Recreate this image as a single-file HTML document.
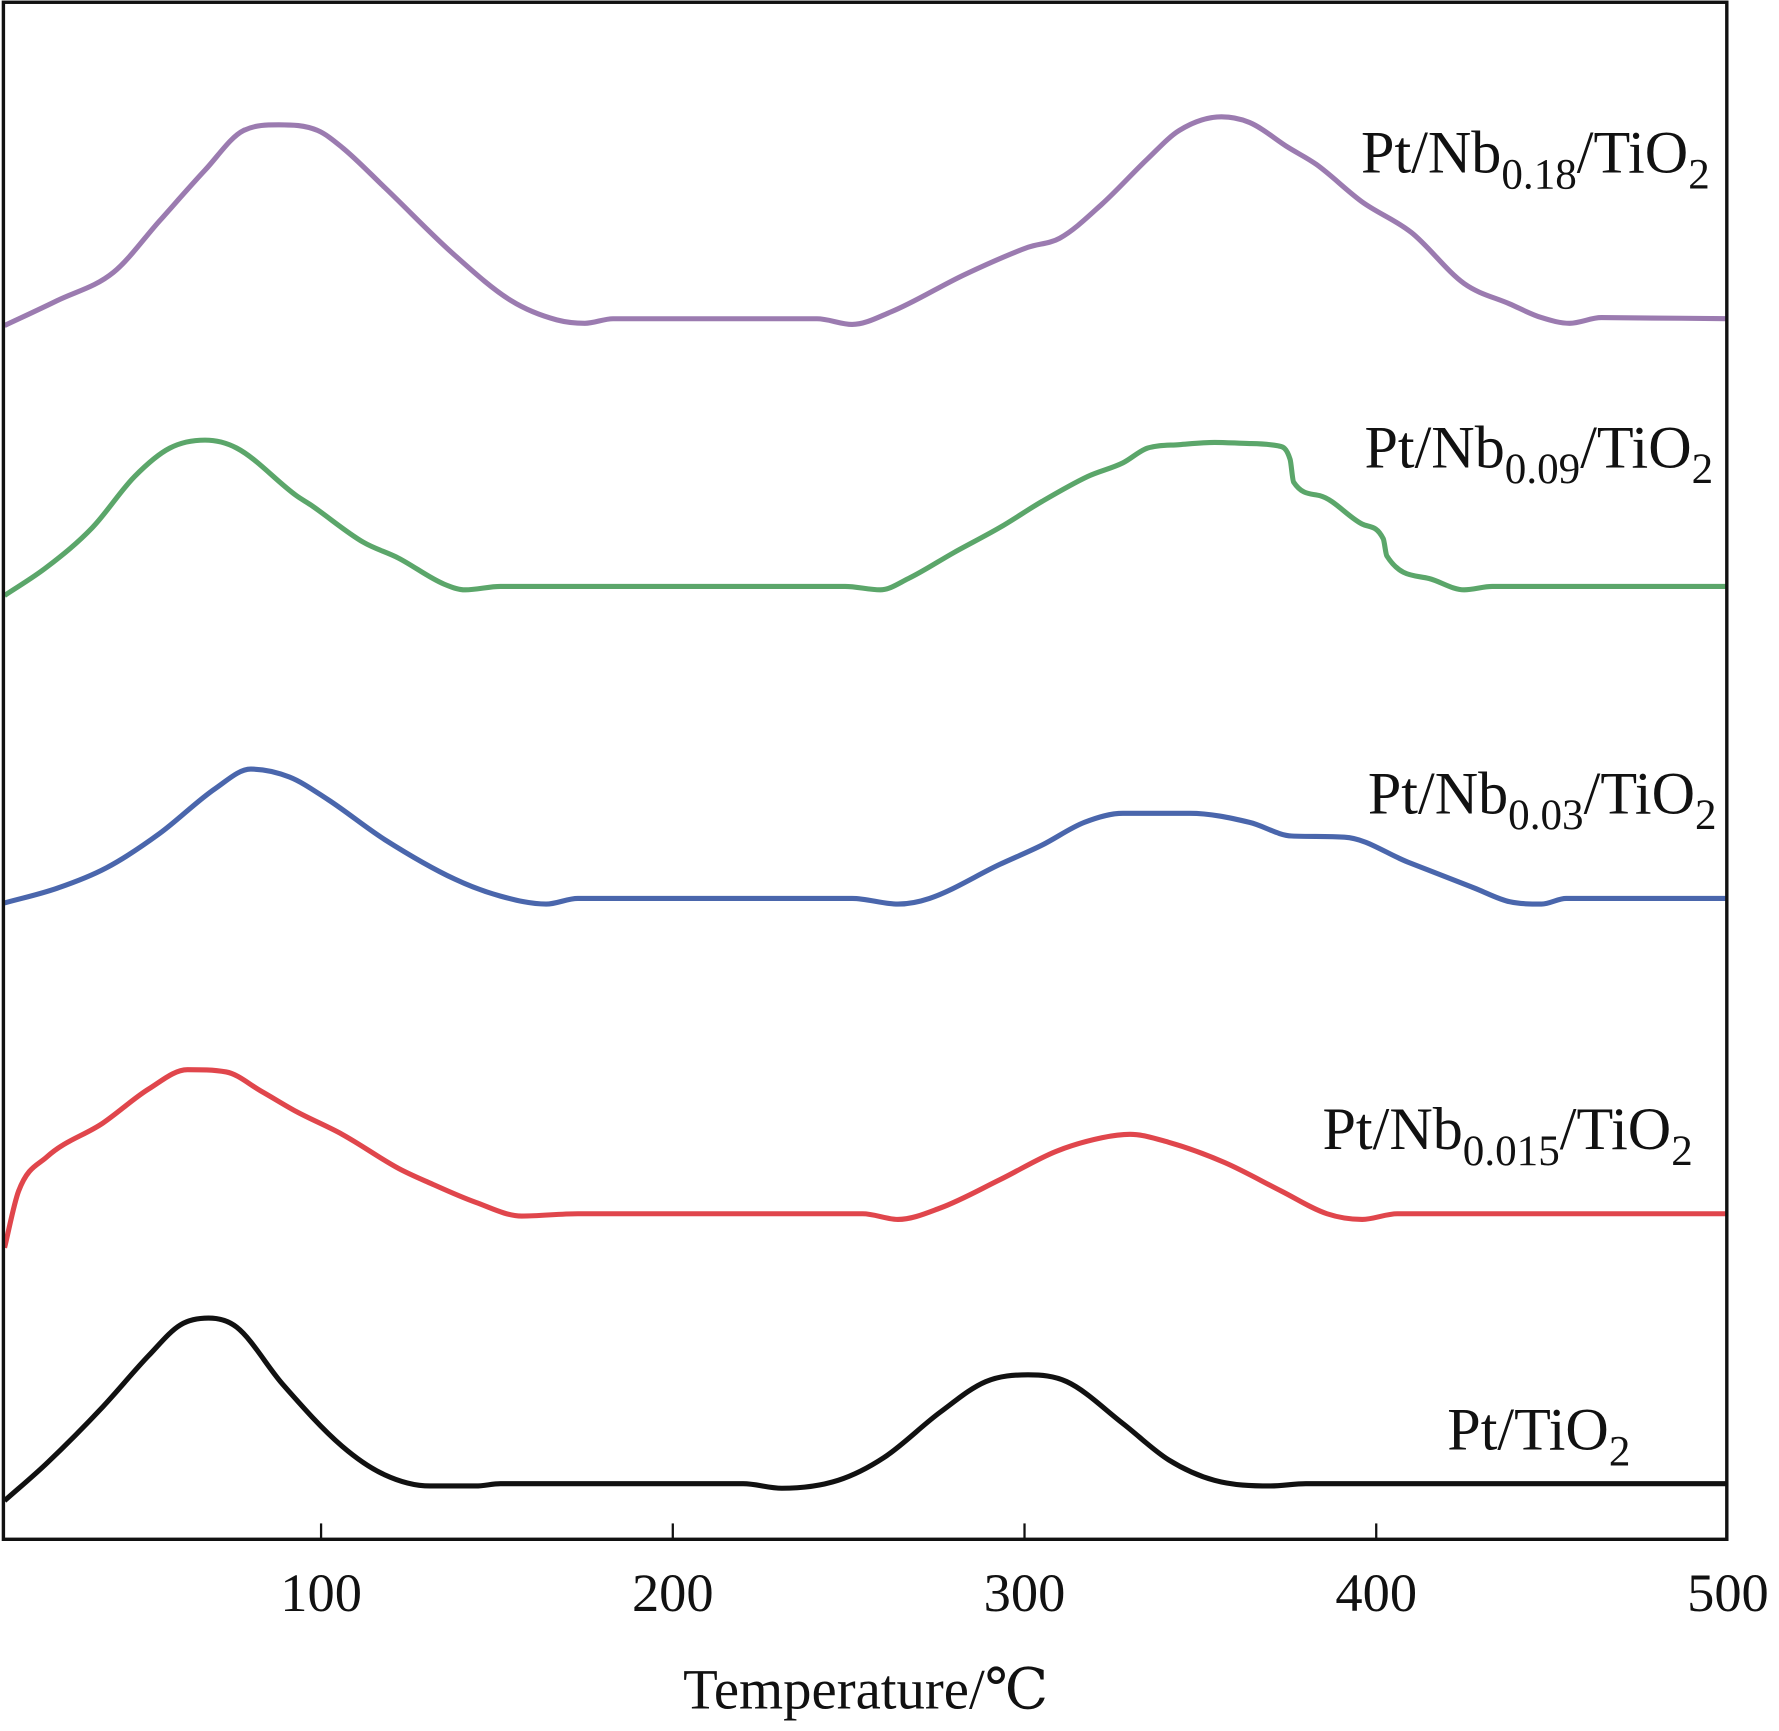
<!DOCTYPE html>
<html><head><meta charset="utf-8"><style>
html,body{margin:0;padding:0;background:#fff;}
svg{display:block;}
text{font-family:"Liberation Serif","DejaVu Serif",serif;fill:#111;}
</style></head><body>
<svg id="chart" width="1779" height="1731" viewBox="0 0 1568 1526" preserveAspectRatio="none" xmlns="http://www.w3.org/2000/svg">
<g id="plot"></g>
</svg>
<script>
const xTicks=[100,200,300,400,500];
const t018=[10,25,41,54,67,78,88,99,106,118,138,154,167,175,183,241,251,262,283,301,310,322,335,344,356,364,375,383,396,410,425,438,447,455,464,500];
const v018=[1070,1092,1117,1162,1207,1242,1247,1242,1227,1192,1132,1092,1075,1072,1076,1076,1071,1082,1115,1139,1147,1177,1217,1242,1254,1249,1227,1212,1179,1152,1107,1089,1077,1072,1077,1076];
const t009=[10,22,35,47,57,67,76,93,97,112,122,135,141,151,249,259,267,280,293,305,318,328,335,344,354,364,372,375.5,376.5,384,396,402,403,415,425,433,500];
const v009=[832,857,892,937,962,969,962,920,912,879,865,842,837,840,840,837,847,870,892,915,937,949,962,965,967,966,964,952,932,920,895,882,867,847,837,840,840];
const t003=[10,25,39,54,70,80,91,102,118,138,151,164,173,251,264,273,293,305,317,328,347,364,376,391,409,428,438,447,454,500];
const v003=[561,574,592,622,662,679,672,652,617,582,567,560,565,565,560,565,595,612,632,640,640,632,620,619,597,574,562,560,565,565];
const t0015=[10,14,22,38,51,62,73,83,93,106,122,131,144,157,173,254,264,276,293,309,322,330,341,357,373,386,396,406,500];
const v0015=[257,307,337,367,397,414,412,395,377,357,327,314,297,285,287,287,282,292,317,342,354,357,350,332,307,287,282,287,287];
const t0=[10,22,38,51,60,68,76,89,106,118,131,144,151,220,231,247,260,276,289,301,312,328,341,354,370,380,500];
const v0=[34,67,117,162,189,195,187,137,82,57,47,47,49,49,45,52,72,112,139,145,139,102,70,52,47,49,49];

const X=t=>283+(t-100)*3.1;
const Y=v=>1357-v;
const NS="http://www.w3.org/2000/svg";
const plot=document.getElementById('plot');
function mk(tag,attrs){const e=document.createElementNS(NS,tag);for(const k in attrs)e.setAttribute(k,attrs[k]);return e;}
function curve(ts,vs){
  const p=ts.map((t,i)=>[X(t),Y(vs[i])]);
  const n=p.length, d=[], m=new Array(n);
  for(let i=0;i<n-1;i++) d.push((p[i+1][1]-p[i][1])/(p[i+1][0]-p[i][0]));
  m[0]=d[0]; m[n-1]=d[n-2];
  for(let i=1;i<n-1;i++){ m[i]=(d[i-1]*d[i]<=0)?0:(d[i-1]+d[i])/2; }
  for(let i=0;i<n-1;i++){
    if(d[i]===0){m[i]=0;m[i+1]=0;continue;}
    const a=m[i]/d[i], b=m[i+1]/d[i], s=a*a+b*b;
    if(s>9){const tt=3/Math.sqrt(s); m[i]=tt*a*d[i]; m[i+1]=tt*b*d[i];}
  }
  let s='M'+p[0][0].toFixed(1)+','+p[0][1].toFixed(1);
  for(let i=0;i<n-1;i++){
    const h=(p[i+1][0]-p[i][0])/3;
    s+=' C'+(p[i][0]+h).toFixed(1)+','+(p[i][1]+m[i]*h).toFixed(1)+' '+(p[i+1][0]-h).toFixed(1)+','+(p[i+1][1]-m[i+1]*h).toFixed(1)+' '+p[i+1][0].toFixed(1)+','+p[i+1][1].toFixed(1);
  }
  return s;
}
const series=[
 {t:t018,v:v018,c:'#9b7bb0',n:'series-pt-nb018'},
 {t:t009,v:v009,c:'#5ba66a',n:'series-pt-nb009'},
 {t:t003,v:v003,c:'#4a66ac',n:'series-pt-nb003'},
 {t:t0015,v:v0015,c:'#e0464c',n:'series-pt-nb0015'},
 {t:t0,v:v0,c:'#111111',n:'series-pt-tio2'}
];
const clip=mk('clipPath',{id:'cp'});clip.appendChild(mk('rect',{x:3,y:2,width:1519,height:1355}));plot.appendChild(clip);
series.forEach(s=>{
  const path=mk('path',{d:curve(s.t,s.v),fill:'none',stroke:s.c,'stroke-width':4.5,'stroke-linejoin':'round','clip-path':'url(#cp)'});
  
  
  plot.appendChild(path);
});
const frame=mk('rect',{x:3,y:2,width:1519,height:1355,fill:'none',stroke:'#111','stroke-width':3});


plot.appendChild(frame);
xTicks.forEach(t=>{
  if(t<500){
    const tk=mk('line',{x1:X(t),x2:X(t),y1:1357,y2:1343,stroke:'#111','stroke-width':2});
    
    
    plot.appendChild(tk);
  }
  const lb=mk('text',{x:X(t),y:1420,'font-size':48,'text-anchor':'middle'});
  lb.textContent=t;
  
  
  plot.appendChild(lb);
});
const xt=mk('text',{x:763,y:1506,'font-size':50,'text-anchor':'middle'});
xt.textContent='Temperature/℃';


plot.appendChild(xt);
const labels=[
 {x:1507,y:152,sub:'0.18',n:'label-pt-nb018'},
 {x:1510,y:412,sub:'0.09',n:'label-pt-nb009'},
 {x:1513,y:717,sub:'0.03',n:'label-pt-nb003'},
 {x:1492,y:1013,sub:'0.015',n:'label-pt-nb0015'},
 {x:1437,y:1278,sub:null,n:'label-pt-tio2'}
];
labels.forEach(l=>{
  const t=mk('text',{x:l.x,y:l.y,'font-size':53,'text-anchor':'end'});
  if(l.sub){
    t.innerHTML='Pt/Nb<tspan font-size="38" dy="14">'+l.sub+'</tspan><tspan dy="-14">/TiO</tspan><tspan font-size="38" dy="14">2</tspan>';
  } else {
    t.innerHTML='Pt/TiO<tspan font-size="38" dy="14">2</tspan>';
  }
  
  
  plot.appendChild(t);
});
</script>
</body></html>
